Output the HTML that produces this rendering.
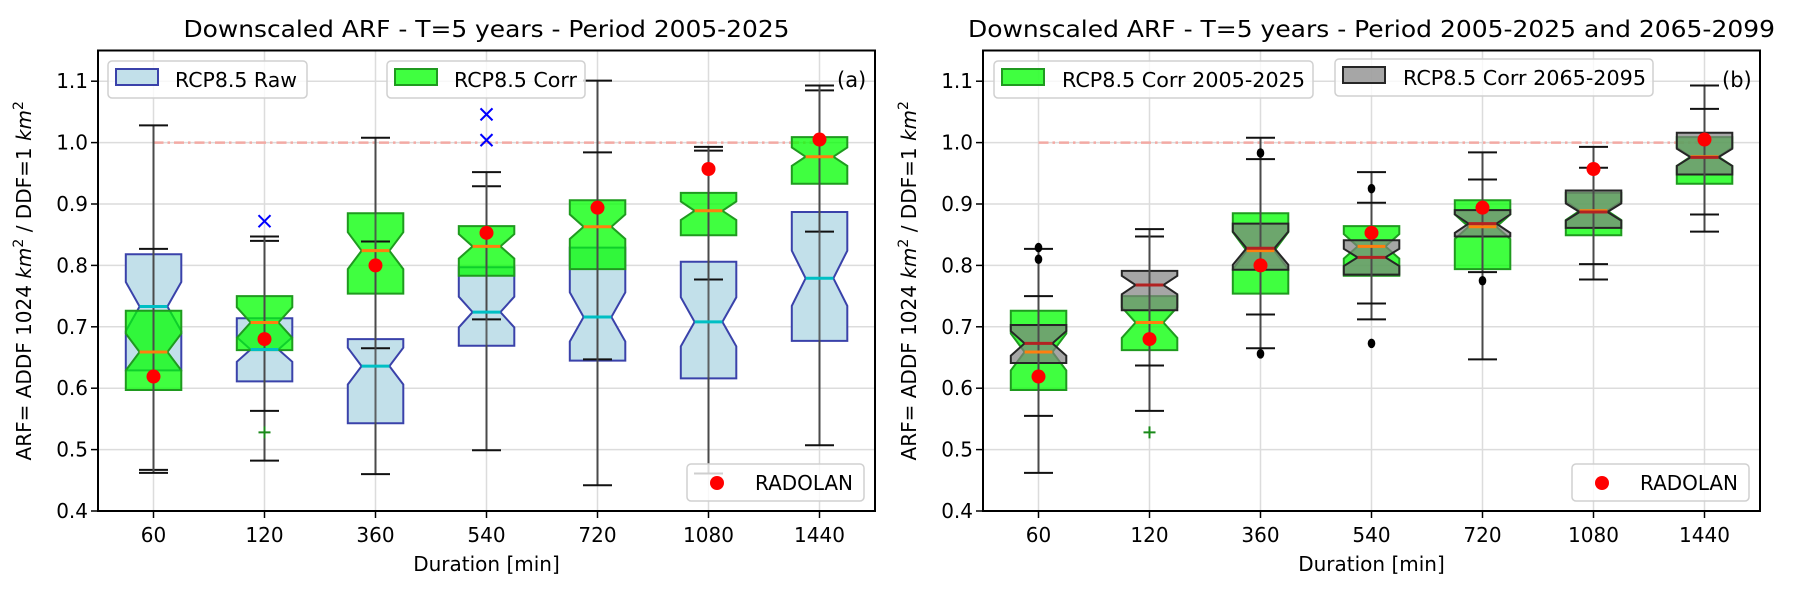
<!DOCTYPE html>
<html><head><meta charset="utf-8"><title>Downscaled ARF boxplots</title>
<style>
html,body{margin:0;padding:0;background:#fff;}
svg{display:block;font-family:"DejaVu Sans","Liberation Sans",sans-serif;}
</style></head>
<body>
<svg id="chart" width="1793" height="591" viewBox="0 0 1793 591" xmlns="http://www.w3.org/2000/svg"></svg>
<script>
const categories = ["60","120","360","540","720","1080","1440"];
const yTicks = [0.4,0.5,0.6,0.7,0.8,0.9,1.0,1.1];
const yTickLabels = ["0.4","0.5","0.6","0.7","0.8","0.9","1.0","1.1"];

const rawLo  = [0.467,0.482,0.460,0.499,0.442,0.461,0.507];
const rawQ1  = [0.629,0.611,0.543,0.669,0.645,0.616,0.677];
const rawMed = [0.733,0.663,0.636,0.724,0.716,0.708,0.779];
const rawQ3  = [0.818,0.714,0.680,0.797,0.829,0.806,0.887];
const rawHi  = [1.028,0.840,0.839,0.929,1.101,0.987,1.085];
const rawCi  = [0.040,0.020,0.030,0.025,0.040,0.040,0.045];
const rawFliers = [[],[0.872],[],[1.046,1.004],[],[],[]];

const corLo  = [0.462,0.563,0.665,0.712,0.647,0.777,0.855];
const corQ1  = [0.597,0.662,0.754,0.783,0.794,0.849,0.933];
const corMed = [0.659,0.707,0.824,0.831,0.863,0.889,0.977];
const corQ3  = [0.726,0.750,0.885,0.864,0.906,0.918,1.009];
const corHi  = [0.827,0.847,1.008,0.952,0.984,0.993,1.093];
const corCi  = [0.030,0.025,0.030,0.020,0.020,0.015,0.015];
const corFliers = [[],[0.528],[],[],[],[],[]];

const futLo  = [0.555,0.637,0.720,0.738,0.789,0.802,0.883];
const futQ1  = [0.641,0.727,0.793,0.785,0.847,0.861,0.948];
const futMed = [0.673,0.768,0.828,0.813,0.868,0.887,0.976];
const futQ3  = [0.703,0.791,0.868,0.841,0.890,0.922,1.016];
const futHi  = [0.750,0.859,0.973,0.902,0.940,0.959,1.055];
const futCi  = [0.020,0.015,0.027,0.014,0.015,0.014,0.014];
const futFliers = [[0.829,0.810],[],[0.983,0.656],[0.925,0.673],[0.775],[],[]];

const radolan = [0.619,0.680,0.800,0.853,0.894,0.957,1.005];

const NS="http://www.w3.org/2000/svg";
const svg=document.getElementById('chart');
function mk(tag,attrs,parent){const e=document.createElementNS(NS,tag);for(const k in attrs)e.setAttribute(k,attrs[k]);(parent||svg).appendChild(e);return e;}

const TOP=50.5,BOT=511,YMIN=0.4,YMAX=1.15,UNIT=111;
function yS(v){return BOT-(v-YMIN)/(YMAX-YMIN)*(BOT-TOP);}

function drawPanel(x0,tag,title,titleLen,sets,legendItems){
  const xS=i=>x0+(i+0.5)*UNIT;
  const x1=x0+7*UNIT;
  const g=mk('g',{});
  
  
  yTicks.forEach((t,i)=>{
    const l=mk('line',{x1:x0,x2:x1,y1:yS(t),y2:yS(t),stroke:'#dcdcdc','stroke-width':1.5},g);
    
    
  });
  categories.forEach((c,i)=>{
    const l=mk('line',{x1:xS(i),x2:xS(i),y1:TOP,y2:BOT,stroke:'#dcdcdc','stroke-width':1.5},g);
    
    
  });
  const ref=mk('line',{x1:xS(0),x2:xS(6),y1:yS(1.0),y2:yS(1.0),stroke:'#f2aaa4','stroke-width':2.5,'stroke-dasharray':'10,4,2.5,4'},g);
  
  
  const hw=UNIT*0.25;
  sets.forEach(s=>{
    categories.forEach((c,i)=>{
      const cx=xS(i);
      const q1=s.q1[i],q3=s.q3[i],m=s.med[i],ci=s.ci[i];
      const pts=[[cx-hw,q1],[cx+hw,q1],[cx+hw,m-ci],[cx+hw/2,m],[cx+hw,m+ci],[cx+hw,q3],[cx-hw,q3],[cx-hw,m+ci],[cx-hw/2,m],[cx-hw,m-ci]]
        .map(p=>p[0].toFixed(1)+','+yS(p[1]).toFixed(1)).join(' ');
      const b=mk('polygon',{points:pts,fill:s.fill,'fill-opacity':s.fo,stroke:s.stroke,'stroke-width':2,'stroke-linejoin':'miter'},g);
      
      
    });
  });
  sets.forEach(s=>{
    categories.forEach((c,i)=>{
      const cx=xS(i);
      const w1=mk('line',{x1:cx,x2:cx,y1:yS(s.q3[i]),y2:yS(s.hi[i]),stroke:'#4a4a4a','stroke-width':2},g);
      
      
      const w2=mk('line',{x1:cx,x2:cx,y1:yS(s.q1[i]),y2:yS(s.lo[i]),stroke:'#4a4a4a','stroke-width':2},g);
      
      
      [s.hi[i],s.lo[i]].forEach(v=>{
        const cap=mk('line',{x1:cx-14.5,x2:cx+14.5,y1:yS(v),y2:yS(v),stroke:'#111','stroke-width':2},g);
        
        
      });
    });
  });
  sets.forEach(s=>{
    categories.forEach((c,i)=>{
      const cx=xS(i);
      const l=mk('line',{x1:cx,x2:cx,y1:yS(s.q3[i]),y2:yS(s.q1[i]),stroke:'#4a4a4a','stroke-width':2,'stroke-opacity':0.85},g);
      
      
    });
  });
  sets.forEach(s=>{
    categories.forEach((c,i)=>{
      const cx=xS(i);
      const l=mk('line',{x1:cx-hw/2,x2:cx+hw/2,y1:yS(s.med[i]),y2:yS(s.med[i]),stroke:s.medColor,'stroke-width':3},g);
      
      
    });
  });
  sets.forEach(s=>{
    s.fliers.forEach((arr,i)=>{
      const cx=xS(i);
      arr.forEach(v=>{
        const y=yS(v);let f;
        if(s.flier==='x'){
          f=mk('path',{d:`M${cx-6},${y-6}L${cx+6},${y+6}M${cx-6},${y+6}L${cx+6},${y-6}`,stroke:'#0000ff','stroke-width':2,fill:'none'},g);
        }else if(s.flier==='+'){
          f=mk('path',{d:`M${cx-6},${y}L${cx+6},${y}M${cx},${y-6}L${cx},${y+6}`,stroke:'#1a8a1a','stroke-width':2,fill:'none'},g);
        }else{
          f=mk('ellipse',{cx:cx,cy:y,rx:3.8,ry:4.8,fill:'#000'},g);
        }
        
        
      });
    });
  });
  radolan.forEach((v,i)=>{
    const d=mk('circle',{cx:xS(i),cy:yS(v),r:7,fill:'#ff0000'},g);
    
    
  });
  const fr=mk('rect',{x:x0,y:TOP,width:7*UNIT,height:BOT-TOP,fill:'none',stroke:'#000','stroke-width':2},g);
  
  
  yTicks.forEach((t,i)=>{
    const tk=mk('line',{x1:x0-7,x2:x0,y1:yS(t),y2:yS(t),stroke:'#000','stroke-width':1.5},g);
    
    
    const tl=mk('text',{x:x0-10,y:yS(t)+7,'text-anchor':'end','font-size':20,fill:'#000'},g);
    tl.textContent=yTickLabels[i];
    
    
  });
  categories.forEach((c,i)=>{
    const tk=mk('line',{x1:xS(i),x2:xS(i),y1:BOT,y2:BOT+7,stroke:'#000','stroke-width':1.5},g);
    
    
    const tl=mk('text',{x:xS(i),y:542,'text-anchor':'middle','font-size':20,fill:'#000'},g);
    tl.textContent=c;
    
    
  });
  const xl=mk('text',{x:(x0+x1)/2,y:571,'text-anchor':'middle','font-size':20,fill:'#000'},g);
  xl.textContent='Duration [min]';
  
  
  const yl=mk('text',{x:0,y:0,'text-anchor':'middle','font-size':20,fill:'#000',transform:`translate(${x0-67},${(TOP+BOT)/2}) rotate(-90)`},g);
  yl.innerHTML='ARF= ADDF 1024 <tspan font-style="italic">km</tspan><tspan dy="-8" font-size="14">2</tspan><tspan dy="8"> / DDF=1 </tspan><tspan font-style="italic">km</tspan><tspan dy="-8" font-size="14">2</tspan>';
  
  
  const tt=mk('text',{x:(x0+x1)/2,y:37,'text-anchor':'middle','font-size':23,fill:'#000',textLength:titleLen,lengthAdjust:'spacingAndGlyphs'},g);
  tt.textContent=title;
  
  
  const pl=mk('text',{x:x1-38,y:87,'font-size':21,fill:'#000'},g);
  pl.textContent='('+tag+')';
  
  
  legendItems.forEach(L=>{
    const lg=mk('g',{},g);
    
    
    mk('rect',{x:L.x,y:L.y,width:L.w,height:37,rx:4,fill:'#fff','fill-opacity':0.8,stroke:'#d0d0d0','stroke-width':1.5},lg);
    if(L.dot){
      mk('circle',{cx:L.x+30,cy:L.y+19,r:7,fill:'#ff0000'},lg);
    }else{
      mk('rect',{x:L.x+8,y:L.y+8,width:42,height:16,fill:L.fill,'fill-opacity':L.fo,stroke:L.stroke,'stroke-width':2},lg);
    }
    const t=mk('text',{x:L.x+L.tx,y:L.y+26,'font-size':20,fill:'#000',textLength:L.tl,lengthAdjust:'spacingAndGlyphs'},lg);
    t.textContent=L.label;
  });
}

const rawSet={name:'rcp85-raw',lo:rawLo,q1:rawQ1,med:rawMed,q3:rawQ3,hi:rawHi,ci:rawCi,fliers:rawFliers,fill:'#c2e0ea',fo:1,stroke:'#3a42aa',medColor:'#00bfc4',flier:'x'};
const corSet={name:'rcp85-corr',lo:corLo,q1:corQ1,med:corMed,q3:corQ3,hi:corHi,ci:corCi,fliers:corFliers,fill:'#00ff00',fo:0.75,stroke:'#1f9a1f',medColor:'#ff7f0e',flier:'+'};
const futSet={name:'rcp85-corr-future',lo:futLo,q1:futQ1,med:futMed,q3:futQ3,hi:futHi,ci:futCi,fliers:futFliers,fill:'#808080',fo:0.7,stroke:'#262626',medColor:'#b22222',flier:'o'};

drawPanel(98,'a','Downscaled ARF - T=5 years - Period 2005-2025',606,[rawSet,corSet],[
  {x:108,y:61,w:199,tx:67,tl:122,label:'RCP8.5 Raw',fill:'#c2e0ea',fo:1,stroke:'#3a42aa'},
  {x:387,y:61,w:198,tx:67,tl:123,label:'RCP8.5 Corr',fill:'#00ff00',fo:0.75,stroke:'#1f9a1f'},
  {x:687,y:464,w:177,tx:68,tl:98,label:'RADOLAN',dot:true}
]);
drawPanel(983,'b','Downscaled ARF - T=5 years - Period 2005-2025 and 2065-2099',807,[corSet,futSet],[
  {x:994,y:61,w:319,tx:68,tl:243,label:'RCP8.5 Corr 2005-2025',fill:'#00ff00',fo:0.75,stroke:'#1f9a1f'},
  {x:1335,y:59,w:318,tx:68,tl:243,label:'RCP8.5 Corr 2065-2095',fill:'#808080',fo:0.7,stroke:'#262626'},
  {x:1572,y:464,w:177,tx:68,tl:98,label:'RADOLAN',dot:true}
]);
</script>
</body></html>
